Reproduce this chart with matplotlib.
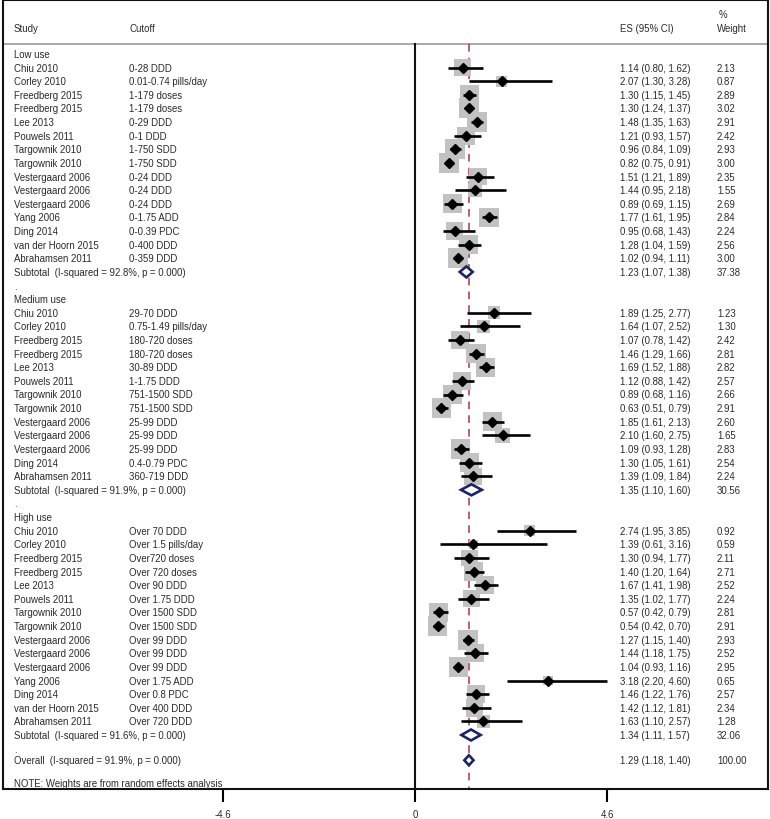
import matplotlib
matplotlib.use('Agg')
import matplotlib.pyplot as plt
from matplotlib.patches import Rectangle, Polygon

# ---- data ----
studies_low = ['Chiu 2010', 'Corley 2010', 'Freedberg 2015', 'Freedberg 2015', 'Lee 2013',
               'Pouwels 2011', 'Targownik 2010', 'Targownik 2010', 'Vestergaard 2006',
               'Vestergaard 2006', 'Vestergaard 2006', 'Yang 2006', 'Ding 2014',
               'van der Hoorn 2015', 'Abrahamsen 2011']
cutoff_low = ['0-28 DDD', '0.01-0.74 pills/day', '1-179 doses', '1-179 doses', '0-29 DDD',
              '0-1 DDD', '1-750 SDD', '1-750 SDD', '0-24 DDD', '0-24 DDD', '0-24 DDD',
              '0-1.75 ADD', '0-0.39 PDC', '0-400 DDD', '0-359 DDD']
es_low = [1.14, 2.07, 1.30, 1.30, 1.48, 1.21, 0.96, 0.82, 1.51, 1.44, 0.89, 1.77, 0.95, 1.28, 1.02]
lo_low = [0.80, 1.30, 1.15, 1.24, 1.35, 0.93, 0.84, 0.75, 1.21, 0.95, 0.69, 1.61, 0.68, 1.04, 0.94]
hi_low = [1.62, 3.28, 1.45, 1.37, 1.63, 1.57, 1.09, 0.91, 1.89, 2.18, 1.15, 1.95, 1.43, 1.59, 1.11]
w_low = [2.13, 0.87, 2.89, 3.02, 2.91, 2.42, 2.93, 3.00, 2.35, 1.55, 2.69, 2.84, 2.24, 2.56, 3.00]

studies_med = ['Chiu 2010', 'Corley 2010', 'Freedberg 2015', 'Freedberg 2015', 'Lee 2013',
               'Pouwels 2011', 'Targownik 2010', 'Targownik 2010', 'Vestergaard 2006',
               'Vestergaard 2006', 'Vestergaard 2006', 'Ding 2014', 'Abrahamsen 2011']
cutoff_med = ['29-70 DDD', '0.75-1.49 pills/day', '180-720 doses', '180-720 doses', '30-89 DDD',
              '1-1.75 DDD', '751-1500 SDD', '751-1500 SDD', '25-99 DDD', '25-99 DDD',
              '25-99 DDD', '0.4-0.79 PDC', '360-719 DDD']
es_med = [1.89, 1.64, 1.07, 1.46, 1.69, 1.12, 0.89, 0.63, 1.85, 2.10, 1.09, 1.30, 1.39]
lo_med = [1.25, 1.07, 0.78, 1.29, 1.52, 0.88, 0.68, 0.51, 1.61, 1.60, 0.93, 1.05, 1.09]
hi_med = [2.77, 2.52, 1.42, 1.66, 1.88, 1.42, 1.16, 0.79, 2.13, 2.75, 1.28, 1.61, 1.84]
w_med = [1.23, 1.30, 2.42, 2.81, 2.82, 2.57, 2.66, 2.91, 2.60, 1.65, 2.83, 2.54, 2.24]

studies_high = studies_low
cutoff_high = ['Over 70 DDD', 'Over 1.5 pills/day', 'Over720 doses', 'Over 720 doses',
               'Over 90 DDD', 'Over 1.75 DDD', 'Over 1500 SDD', 'Over 1500 SDD', 'Over 99 DDD',
               'Over 99 DDD', 'Over 99 DDD', 'Over 1.75 ADD', 'Over 0.8 PDC', 'Over 400 DDD',
               'Over 720 DDD']
es_high = [2.74, 1.39, 1.30, 1.40, 1.67, 1.35, 0.57, 0.54, 1.27, 1.44, 1.04, 3.18, 1.46, 1.42, 1.63]
lo_high = [1.95, 0.61, 0.94, 1.20, 1.41, 1.02, 0.42, 0.42, 1.15, 1.18, 0.93, 2.20, 1.22, 1.12, 1.10]
hi_high = [3.85, 3.16, 1.77, 1.64, 1.98, 1.77, 0.79, 0.70, 1.40, 1.75, 1.16, 4.60, 1.76, 1.81, 2.57]
w_high = [0.92, 0.59, 2.11, 2.71, 2.52, 2.24, 2.81, 2.91, 2.93, 2.52, 2.95, 0.65, 2.57, 2.34, 1.28]

group_names = ['Low use', 'Medium use', 'High use']
sub_es = [1.23, 1.35, 1.34]
sub_lo = [1.07, 1.10, 1.11]
sub_hi = [1.38, 1.60, 1.57]
sub_w = [37.38, 30.56, 32.06]
sub_i2 = [92.8, 91.9, 91.6]

overall_es, overall_lo, overall_hi = 1.29, 1.18, 1.40
overall_i2 = 91.9

xticks = [-4.6, 0, 4.6]

groups = [
    (studies_low, cutoff_low, es_low, lo_low, hi_low, w_low),
    (studies_med, cutoff_med, es_med, lo_med, hi_med, w_med),
    (studies_high, cutoff_high, es_high, lo_high, hi_high, w_high),
]

# ---- layout (pixels) ----
W, H = 770, 820
box_l, box_r, box_t, box_b = 3, 768, 1, 790
px_per_unit = 41.8
zero_px = 415
row0, row_h = 55, 13.62

TXT = '#2a2a2a'
FS = 6.95
plt.rcParams['font.family'] = ['Liberation Sans', 'DejaVu Sans']

fig = plt.figure(figsize=(W / 100, H / 100), dpi=100)
ax = fig.add_axes([box_l / W, (H - box_b) / H, (box_r - box_l) / W, (box_b - box_t) / H])
ax.set_xlim((box_l - zero_px) / px_per_unit, (box_r - zero_px) / px_per_unit)
ax.set_ylim(box_b, box_t)
for s in ax.spines.values():
    s.set_linewidth(1.5)
    s.set_color('#111111')

ax.set_yticks([])
ax.set_xticks(xticks)
ax.set_xticklabels(['-4.6', '0', '4.6'])
ax.tick_params(axis='x', direction='out', length=9.5, width=1.5, pad=5,
               labelsize=FS, labelcolor=TXT)

tr = ax.get_yaxis_transform()


def colx(px):
    return (px - box_l) / (box_r - box_l)


def put(px, y, s):
    ax.text(colx(px), y, s, transform=tr, fontsize=FS, color=TXT, va='center', ha='left')


# header
put(14, 29, 'Study')
put(129, 29, 'Cutoff')
put(620, 29, 'ES (95% CI)')
put(719, 15, '%')
put(717, 29, 'Weight')
ax.axhline(45, color='#9a9a9a', lw=1.2)

y_sep = 45
ax.plot([0, 0], [y_sep, box_b], color='#111111', lw=1.5, zorder=2)
ax.plot([overall_es, overall_es], [y_sep, box_b], color='#a8344c', lw=1.1,
        dashes=(5, 4), zorder=2)


def rowy(i):
    return row0 + row_h * i


def draw_diamond(es, lo, hi, y, h=5.5):
    ax.add_patch(Polygon([(lo, y), (es, y - h), (hi, y), (es, y + h)], closed=True,
                         facecolor='white', edgecolor='#1b2468', lw=1.9, zorder=5))


r = 0
for g, (names, cuts, es, lo, hi, w) in enumerate(groups):
    put(14, rowy(r), group_names[g])
    r += 1
    for k in range(len(names)):
        y = rowy(r)
        put(14, y, names[k])
        put(129, y, cuts[k])
        put(620, y, '%.2f (%.2f, %.2f)' % (es[k], lo[k], hi[k]))
        put(717, y, '%.2f' % w[k])
        side = 11.5 * w[k] ** 0.5
        ax.add_patch(Rectangle((es[k] - side / 2 / px_per_unit, y - side / 2),
                               side / px_per_unit, side, facecolor='#c2c2c2',
                               edgecolor='none', zorder=3))
        ax.plot([lo[k], hi[k]], [y, y], color='black', lw=1.9, zorder=4,
                solid_capstyle='butt')
        ax.plot([es[k]], [y], marker='D', color='black', markersize=4.8, zorder=5)
        r += 1
    y = rowy(r)
    put(14, y, 'Subtotal  (I-squared = %.1f%%, p = 0.000)' % sub_i2[g])
    put(620, y, '%.2f (%.2f, %.2f)' % (sub_es[g], sub_lo[g], sub_hi[g]))
    put(717, y, '%.2f' % sub_w[g])
    draw_diamond(sub_es[g], sub_lo[g], sub_hi[g], y)
    r += 1
    put(14, rowy(r), '.')
    r += 1

y = rowy(r - 1) + row_h - 2
put(14, y, 'Overall  (I-squared = %.1f%%, p = 0.000)' % overall_i2)
put(620, y, '%.2f (%.2f, %.2f)' % (overall_es, overall_lo, overall_hi))
put(717, y, '%.2f' % 100)
draw_diamond(overall_es, overall_lo, overall_hi, y, h=5)
put(14, 784, 'NOTE: Weights are from random effects analysis')

fig.savefig('out.png', dpi=100)
